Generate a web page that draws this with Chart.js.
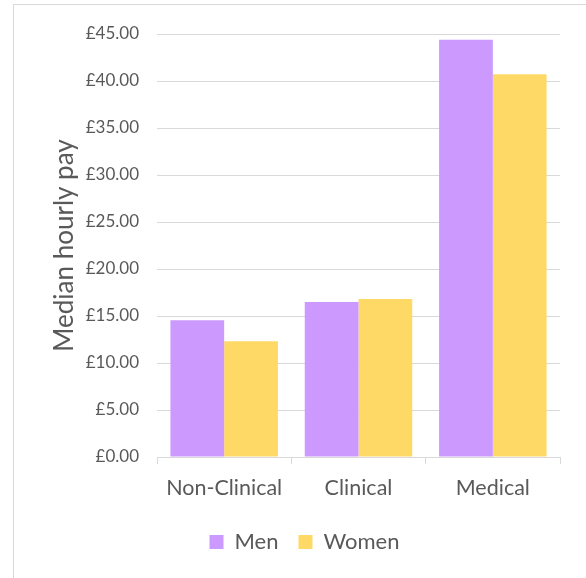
<!DOCTYPE html>
<html>
<head>
<meta charset="utf-8">
<script src="https://cdn.jsdelivr.net/npm/chart.js@4/dist/chart.umd.min.js"></script>
<style>
  html, body { margin: 0; padding: 0; background: #ffffff; overflow: hidden; }
  #frame { position: absolute; left: 13px; top: 4px; width: 620px; height: 620px; border: 1px solid #d9d9d9; box-sizing: border-box; }
  #wrap { position: absolute; left: 0; top: 0; width: 586px; height: 578px; }
</style>
</head>
<body>
<div id="frame"></div>
<div id="wrap"><canvas id="c" width="586" height="578"></canvas></div>
<script>
const categories = ["Non-Clinical", "Clinical", "Medical"];
const menValues = [14.54, 16.49, 44.40];
const womenValues = [12.31, 16.81, 40.71];
const yTickValues = [0, 5, 10, 15, 20, 25, 30, 35, 40, 45];
const seriesNames = ["Men", "Women"];
const yAxisTitle = "Median hourly pay";

const FONT = "Lato, 'Open Sans', sans-serif";
const TEXT = "#595959";
const GRID = "#d9d9d9";
const LEFT_PAD = 49;

new Chart(document.getElementById("c"), {
  type: "bar",
  data: {
    labels: categories,
    datasets: [
      { label: seriesNames[0], data: menValues, backgroundColor: "#CC99FF", categoryPercentage: 0.8, barPercentage: 1.0 },
      { label: seriesNames[1], data: womenValues, backgroundColor: "#FFD966", categoryPercentage: 0.8, barPercentage: 1.0 }
    ]
  },
  options: {
    responsive: false,
    animation: false,
    devicePixelRatio: 1,
    layout: { padding: { left: LEFT_PAD, right: 26, top: 34, bottom: 15 } },
    plugins: {
      tooltip: { enabled: false },
      legend: {
        position: "bottom",
        labels: { boxWidth: 14, boxHeight: 14, padding: 20, color: TEXT, font: { family: FONT, size: 22 } }
      }
    },
    scales: {
      x: {
        grid: { drawOnChartArea: false, drawTicks: true, tickLength: 7, color: GRID, offset: true },
        border: { color: GRID },
        ticks: { color: TEXT, font: { family: FONT, size: 21.5 }, padding: 11 },
        afterFit: (s) => { s.height = 54; }
      },
      y: {
        min: 0, max: 45,
        afterBuildTicks: (s) => { s.ticks = yTickValues.map(v => ({ value: v })); },
        ticks: { color: TEXT, font: { family: FONT, size: 17 }, padding: 18, callback: (v) => "£" + Number(v).toFixed(2) },
        grid: { color: GRID, drawTicks: false },
        border: { display: false },
        title: { display: true, text: yAxisTitle, color: TEXT, font: { family: FONT, size: 26 }, padding: { top: 0, bottom: 0 } },
        afterFit: (s) => { s.width = 157 - LEFT_PAD; }
      }
    }
  }
});
</script>
</body>
</html>
